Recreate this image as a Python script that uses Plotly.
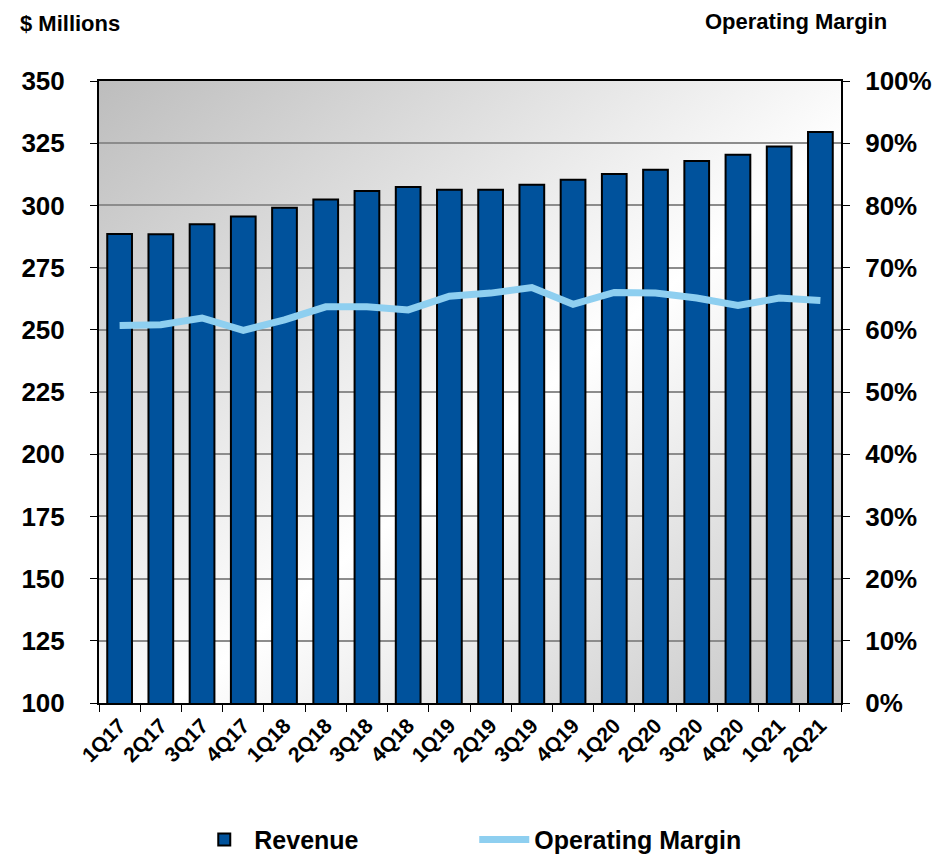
import base64
import plotly.graph_objects as go

quarters = ['1Q17', '2Q17', '3Q17', '4Q17', '1Q18', '2Q18', '3Q18', '4Q18', '1Q19',
            '2Q19', '3Q19', '4Q19', '1Q20', '2Q20', '3Q20', '4Q20', '1Q21', '2Q21']
revenue = [288.5, 288.4, 292.4, 295.5, 299.1, 302.4, 305.8, 307.4, 306.3,
           306.3, 308.3, 310.3, 312.6, 314.3, 317.8, 320.4, 323.7, 329.5]
operating_margin = [0.607, 0.608, 0.619, 0.599, 0.616, 0.637, 0.637, 0.632, 0.654,
                    0.659, 0.668, 0.641, 0.660, 0.659, 0.651, 0.639, 0.651, 0.647]

FONT = 'Liberation Sans, Arial, sans-serif'
BAR_BLUE = '#00529c'
LINE_BLUE = '#8ecff0'

# diagonal grey-white-grey background of the plot area
svg = ('<svg xmlns="http://www.w3.org/2000/svg" width="742" height="622" '
       'preserveAspectRatio="none">'
       '<defs><linearGradient id="g" x1="0" y1="0" x2="1" y2="1">'
       '<stop offset="0" stop-color="#bdbdbd"/>'
       '<stop offset="0.55" stop-color="#ffffff"/>'
       '<stop offset="1" stop-color="#c2c2c2"/>'
       '</linearGradient></defs>'
       '<rect width="742" height="622" fill="url(#g)"/></svg>')
bg_src = 'data:image/svg+xml;base64,' + base64.b64encode(svg.encode()).decode()

fig = go.Figure()

fig.add_trace(go.Bar(
    x=quarters, y=revenue, name='Revenue',
    marker=dict(color=BAR_BLUE, line=dict(color='black', width=2)),
    yaxis='y',
))

fig.add_trace(go.Scatter(
    x=quarters, y=operating_margin, name='Operating Margin',
    mode='lines', line=dict(color=LINE_BLUE, width=7),
    yaxis='y2',
))

# page body adds an 8px offset, so the figure is 8px smaller on each side
fig.update_layout(
    width=936, height=847,
    margin=dict(l=91, r=103, t=73, b=152),
    paper_bgcolor='white',
    plot_bgcolor='rgba(0,0,0,0)',
    font=dict(family=FONT, color='black', size=18, weight='bold'),
    bargap=0.4,
    showlegend=True,
    legend=dict(
        orientation='h', xref='container', yref='container',
        x=0.199, xanchor='left', y=0.018, yanchor='middle',
        font=dict(size=25, weight='bold', family=FONT),
        entrywidth=215, entrywidthmode='pixels', itemwidth=50,
        bgcolor='rgba(0,0,0,0)',
    ),
    xaxis=dict(
        type='category', tickangle=-45, automargin=False,
        tickfont=dict(size=21, weight='bold', family=FONT),
        showline=True, linecolor='black', linewidth=2, mirror=True,
        ticks='outside', ticklen=7, tickcolor='black', tickson='boundaries',
        showgrid=False,
    ),
    yaxis=dict(
        range=[100, 350], dtick=25, tick0=100, automargin=False,
        tickfont=dict(size=26, weight='bold', family=FONT),
        showline=True, linecolor='black', linewidth=2,
        ticks='outside', ticklen=7, tickcolor='black',
        showgrid=True, gridcolor='#8c8c8c', gridwidth=2,
        ticklabelstandoff=20, zeroline=False,
    ),
    yaxis2=dict(
        range=[0, 1], dtick=0.1, tick0=0, tickformat='.0%', automargin=False,
        overlaying='y', side='right',
        tickfont=dict(size=26, weight='bold', family=FONT),
        showline=True, linecolor='black', linewidth=2,
        ticks='outside', ticklen=7, tickcolor='black',
        showgrid=False, zeroline=False, ticklabelstandoff=10,
    ),
    images=[dict(
        source=bg_src, xref='paper', yref='paper', x=0, y=1,
        sizex=1, sizey=1, xanchor='left', yanchor='top',
        sizing='stretch', layer='below',
    )],
    annotations=[
        dict(text='$ Millions', xref='paper', yref='paper', x=-0.109, y=1.092,
             xanchor='left', yanchor='middle', showarrow=False,
             font=dict(size=22, weight='bold', family=FONT)),
        dict(text='Operating Margin', xref='paper', yref='paper', x=1.0645, y=1.095,
             xanchor='right', yanchor='middle', showarrow=False,
             font=dict(size=22, weight='bold', family=FONT)),
    ],
)

fig.write_html('out.html')
